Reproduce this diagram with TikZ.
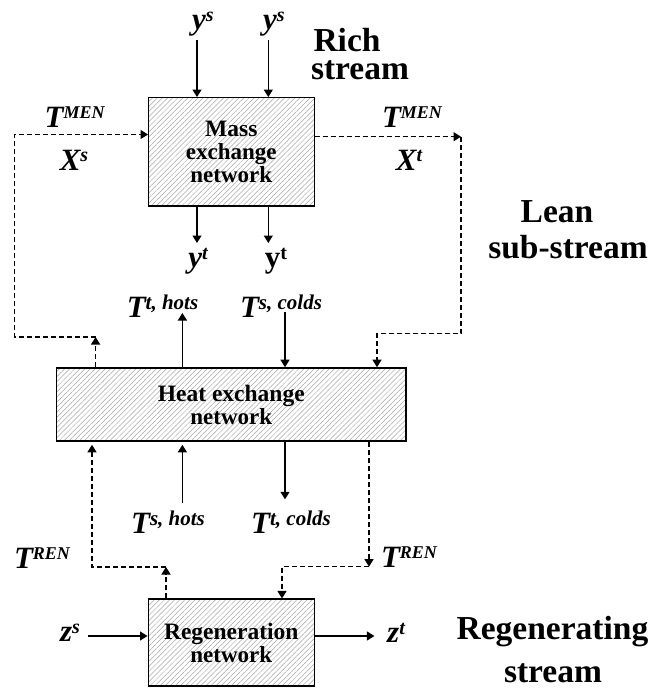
\documentclass[tikz,border=0pt]{standalone}
\usepackage{fontspec}
\setmainfont{Liberation Serif}
\usetikzlibrary{arrows.meta,patterns.meta}

% font size helper (size in pt)
\newcommand{\fsz}[1]{\fontsize{#1}{#1}\selectfont}
% variable with a raised superscript: \Var[sup size]{base}{sup}
\newcommand{\Var}[3][20]{{\fsz{31}\bfseries\itshape #2}\raisebox{8.5pt}{\fsz{#1}\bfseries\itshape #3}}

\tikzset{
  netbox/.style={draw, line width=1.6pt, inner sep=0pt,
    pattern={Lines[angle=45,distance=3.6pt,line width=0.5pt]}, pattern color=gray!70,
    align=center, font=\fsz{23}\bfseries},
  flow/.style={line width=1.3pt, -{Triangle[length=7.5pt,width=9pt]}},
  dflow/.style={flow, dash pattern=on 5pt off 3pt},
  var/.style={inner sep=0pt},
  tag/.style={inner sep=0pt, font=\fontsize{33.5}{40}\selectfont\bfseries}
}

\begin{document}
\begin{tikzpicture}[x=1pt,y=-1pt]
\useasboundingbox (0,0) rectangle (655,688);

% the three networks
\node[netbox, minimum width=166pt, minimum height=108.4pt] (men) at (231.3,151.5)
  {\fontsize{23.5}{27.5}\selectfont Mass\\exchange\\network};
\node[netbox, minimum width=349.3pt, minimum height=73pt] (hen) at (231.3,404.5)
  {\fontsize{23.5}{26.5}\selectfont Heat exchange\\network};
\node[netbox, minimum width=166pt, minimum height=86.7pt] (ren) at (231.3,642.6)
  {\fontsize{23.5}{27}\selectfont Regeneration\\network};

% stream names
\node[tag] (rich) at (347,40) {Rich};
\node[tag] (richs) at (360,70) {stream};
\node[tag] (lean) at (557,212) {Lean};
\node[tag] (leans) at (568,247) {sub-stream};
\node[tag] (regen) at (552.5,632) {Regenerating};
\node[tag] (regens) at (553,673) {stream};

% variables
\node[var] (ys1) at (203,24) {\Var{y}{s}};
\node[var] (ys2) at (274,24) {\Var{y}{s}};
\node[var] (yt1) at (198,261) {\Var{y}{t}};
\node[var] (yt2) at (276,261) {{\fsz{31}\bfseries y}\raisebox{8.5pt}{\fsz{20}\bfseries t}};
\node[var] (tmen1) at (74.6,117) {\Var[18]{T}{MEN}};
\node[var] (xs) at (74,160) {\Var{X}{s}};
\node[var] (tmen2) at (412,117) {\Var[18]{T}{MEN}};
\node[var] (xt) at (409,160) {\Var{X}{t}};
\node[var] (tth) at (162.5,306) {\Var[21]{T}{t, hots}};
\node[var] (tsc) at (281,306) {\Var[21]{T}{s, colds}};
\node[var] (tsh) at (168,522) {\Var[21]{T}{s, hots}};
\node[var] (ttc) at (291,522) {\Var[21]{T}{t, colds}};
\node[var] (tren1) at (42,558) {\Var[18]{T}{REN}};
\node[var] (tren2) at (409,557) {\Var[18]{T}{REN}};
\node[var] (zs) at (70,633) {\Var{z}{s}};
\node[var] (zt) at (396,633) {\Var{z}{t}};

% free ends and bends of the connectors
\coordinate (ysA) at (197,40);
\coordinate (ysB) at (268.3,40);
\coordinate (ytA) at (197,243);
\coordinate (ytB) at (268.3,243);
\coordinate (l1) at (95.6,337);
\coordinate (l2) at (14.7,337);
\coordinate (l3) at (14.7,134.5);
\coordinate (r1) at (461,136.7);
\coordinate (r2) at (461,333.3);
\coordinate (r3) at (377,333.3);
\coordinate (th) at (182.4,313);
\coordinate (sc) at (285,311.7);
\coordinate (b1) at (166,567);
\coordinate (b2) at (92,567);
\coordinate (sh) at (182.4,502.7);
\coordinate (tc) at (285,499.3);
\coordinate (c1) at (369,566.7);
\coordinate (c2) at (282,566.7);
\coordinate (zin) at (88,636);
\coordinate (zout) at (374.4,636);

% rich stream
\draw[flow] (ysA) -- (ysA |- men.north);
\draw[flow] (ysB) -- (ysB |- men.north);
\draw[flow] (ytA |- men.south) -- (ytA);
\draw[flow] (ytB |- men.south) -- (ytB);

% lean sub-stream between mass and heat exchange
\draw[dflow] (l1 |- hen.north) -- (l1);
\draw[dflow] (l1) -- (l2) -- (l3) -- (l3 -| men.west);
\draw[dflow] (r1 -| men.east) -- (r1);
\draw[dflow] (r1) -- (r2) -- (r3) -- (r3 |- hen.north);

% hot and cold streams
\draw[flow] (th |- hen.north) -- (th);
\draw[flow] (sc) -- (sc |- hen.north);
\draw[flow, shorten >=3pt] (sh) -- (sh |- hen.south);
\draw[flow] (tc |- hen.south) -- (tc);

% lean sub-stream between heat exchange and regeneration
\draw[dflow] (b1 |- ren.north) -- (b1);
\draw[dflow, shorten >=3pt] (b1) -- (b2) -- (b2 |- hen.south);
\draw[dflow] (c1 |- hen.south) -- (c1);
\draw[dflow] (c1) -- (c2) -- (c2 |- ren.north);

% regenerating stream
\draw[flow] (zin) -- (zin -| ren.west);
\draw[flow] (zout -| ren.east) -- (zout);
\end{tikzpicture}
\end{document}
